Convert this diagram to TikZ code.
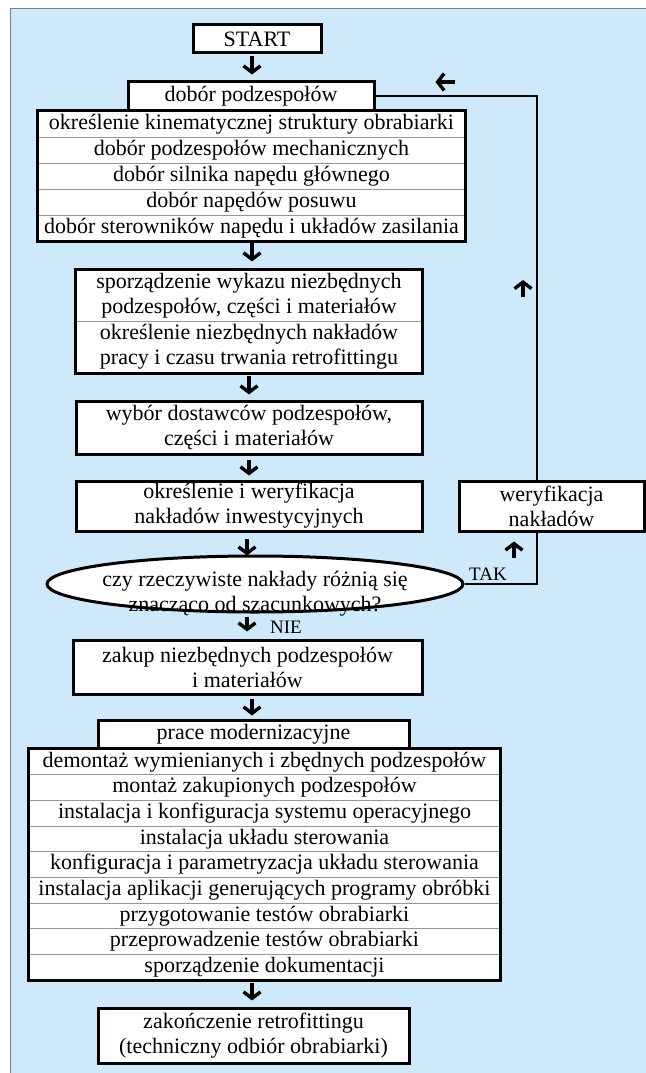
\documentclass[tikz,border=0pt]{standalone}
\usepackage{fontspec}
\setmainfont{Liberation Serif}
\usetikzlibrary{arrows.meta,shapes.geometric}
\definecolor{bgblue}{RGB}{206,234,250}
\definecolor{edgegray}{RGB}{120,130,140}
\definecolor{sepgray}{RGB}{150,150,150}

\begin{document}
\begin{tikzpicture}[x=1pt,y=-1pt,
  every node/.style={font=\fontsize{22}{25}\selectfont, align=center, inner sep=0pt},
  box/.style={draw, line width=3pt, fill=white},
  row/.style={draw=sepgray, line width=0.9pt, fill=white},
  frame/.style={draw, line width=3pt},
  flow/.style={line width=3.4pt, -{Straight Barb[length=6.5pt,width=17pt]}},
  loop/.style={line width=2.2pt},
  lbl/.style={font=\fontsize{19}{22}\selectfont}]
\useasboundingbox (0,0) rectangle (645,1073);
\fill[white] (0,0) rectangle (645,1073);
\filldraw[fill=bgblue, draw=edgegray, line width=1pt] (10,9) rectangle (650,1080);

% start
\node[box, minimum width=128pt, minimum height=28pt] (start) at (257,39) {START};

% selection of components
\node[box, minimum width=246pt, minimum height=30pt] (sel) at (251,96) {dobór podzespołów};
\node[row, minimum width=427pt, minimum height=26pt] (s1) at (251.5,124) {określenie kinematycznej struktury obrabiarki};
\node[row, minimum width=427pt, minimum height=26pt] (s2) at (251.5,150) {dobór podzespołów mechanicznych};
\node[row, minimum width=427pt, minimum height=26pt] (s3) at (251.5,176) {dobór silnika napędu głównego};
\node[row, minimum width=427pt, minimum height=26pt] (s4) at (251.5,202) {dobór napędów posuwu};
\node[row, minimum width=427pt, minimum height=26pt] (s5) at (251.5,228) {dobór sterowników napędu i układów zasilania};
\draw[frame] (s1.north west) rectangle (s5.south east);

% list of parts and labour
\node[row, minimum width=346pt, minimum height=51pt] (n2a) at (249,295.5) {sporządzenie wykazu niezbędnych\\podzespołów, części i materiałów};
\node[row, minimum width=346pt, minimum height=52pt] (n2b) at (249,347) {określenie niezbędnych nakładów\\pracy i czasu trwania retrofittingu};
\draw[frame] (n2a.north west) rectangle (n2b.south east);

\node[box, minimum width=346pt, minimum height=53pt] (n3) at (249,427.5) {wybór dostawców podzespołów,\\części i materiałów};
\node[box, minimum width=346pt, minimum height=50pt] (n4) at (249,506) {określenie i weryfikacja\\nakładów inwestycyjnych};
\node[box, minimum width=185pt, minimum height=50pt] (wer) at (551.5,506) {weryfikacja\\nakładów};

% decision
\node[ellipse, draw, line width=3pt, fill=white, minimum width=416pt, minimum height=56pt] (dec) at (255,584) {};
\node (dect) at (255,594) {czy rzeczywiste nakłady różnią się\\znacząco od szacunkowych?};

\node[box, minimum width=349pt, minimum height=54pt] (n5) at (247.5,667) {zakup niezbędnych podzespołów\\i materiałów};

% modernisation works
\node[box, minimum width=311pt, minimum height=29pt] (mod) at (253.5,734.5) {prace modernizacyjne};
\node[row, minimum width=471pt, minimum height=25.67pt] (t1) at (264.5,761.8) {demontaż wymienianych i zbędnych podzespołów};
\node[row, minimum width=471pt, minimum height=25.67pt] (t2) at (264.5,787.5) {montaż zakupionych podzespołów};
\node[row, minimum width=471pt, minimum height=25.67pt] (t3) at (264.5,813.2) {instalacja i konfiguracja systemu operacyjnego};
\node[row, minimum width=471pt, minimum height=25.67pt] (t4) at (264.5,838.8) {instalacja układu sterowania};
\node[row, minimum width=471pt, minimum height=25.67pt] (t5) at (264.5,864.5) {konfiguracja i parametryzacja układu sterowania};
\node[row, minimum width=471pt, minimum height=25.67pt] (t6) at (264.5,890.2) {instalacja aplikacji generujących programy obróbki};
\node[row, minimum width=471pt, minimum height=25.67pt] (t7) at (264.5,915.8) {przygotowanie testów obrabiarki};
\node[row, minimum width=471pt, minimum height=25.67pt] (t8) at (264.5,941.5) {przeprowadzenie testów obrabiarki};
\node[row, minimum width=471pt, minimum height=25.67pt] (t9) at (264.5,967.2) {sporządzenie dokumentacji};
\draw[frame] (t1.north west) rectangle (t9.south east);

\node[box, minimum width=311pt, minimum height=55pt] (end) at (253.5,1035.5) {zakończenie retrofittingu\\(techniczny odbiór obrabiarki)};

% feedback loop
\coordinate (lp) at (537,97);
\draw[loop] (sel.east) -| (lp |- wer.north);
\draw[loop] (dec.east) -| (lp |- wer.south);

% flow arrows
\draw[flow] ([shift={(-5,2)}]start.south) -- ++(0,18);
\draw[flow] ([shift={(0.5,2)}]s5.south) -- ++(0,18);
\draw[flow] ([shift={(0,3)}]n2b.south) -- ++(0,18);
\draw[flow] ([shift={(0,4)}]n3.south) -- ++(0,16);
\draw[flow] ([shift={(-2,6)}]n4.south) -- ++(0,17);
\draw[flow] ([shift={(-8,3)}]dec.south) -- ++(0,15);
\draw[flow] ([shift={(4.5,3)}]n5.south) -- ++(0,17);
\draw[flow] ([shift={(-12.5,3)}]t9.south) -- ++(0,17);
\draw[flow] ([shift={(79,-14)}]sel.east) -- ++(-19,0);
\draw[flow] ([shift={(-14,200)}]lp) -- ++(0,-17);
\draw[flow] ([shift={(-37.5,25)}]wer.south) -- ++(0,-16);

% branch labels
\node[lbl] (tak) at (488,574) {TAK};
\node[lbl] (nie) at (286,627) {NIE};
\end{tikzpicture}
\end{document}
